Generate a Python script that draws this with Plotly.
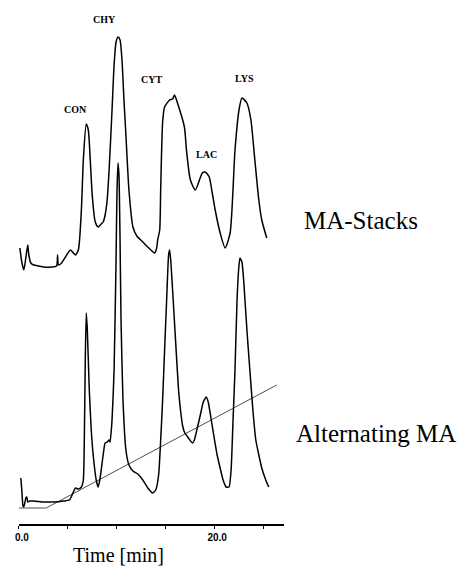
import plotly.graph_objects as go

# Retention times (min) and detector response (arbitrary units) for the two columns
stacks_time = [0.10, 0.30, 0.51, 0.71, 0.91, 1.02, 1.22, 1.52, 2.03, 2.54, 3.35, 3.86, 3.96, 4.06,
               4.37, 4.77, 5.28, 5.58, 5.79, 6.09, 6.40, 6.60, 6.90, 7.11, 7.31, 7.51, 7.82, 8.12,
               8.43, 8.63, 8.83, 9.04, 9.24, 9.54, 9.75, 9.95, 10.15, 10.36, 10.56, 10.76, 10.96,
               11.27, 11.68, 12.08, 12.69, 13.30, 13.91, 14.11, 14.21, 14.42, 14.52, 14.72, 14.92,
               15.43, 15.74, 15.94, 16.24, 16.95, 17.16, 17.56, 18.07, 18.78, 19.08, 19.49, 19.80,
               20.10, 20.61, 21.12, 21.63, 22.13, 22.54, 22.84, 23.35, 23.76, 24.16, 24.57, 24.87,
               25.38]
stacks_signal = [19, 5, -3, 9, 22, 12, 4, 2, 1, 0, 0, 1, 12, 2,
                 4, 10, 17, 14, 12, 17, 57, 107, 143, 137, 107, 72, 45, 40,
                 43, 45, 52, 67, 97, 157, 202, 225, 230, 227, 207, 167, 132,
                 77, 40, 31, 25, 19, 14, 19, 27, 37, 77, 145, 160,
                 167, 168, 172, 164, 140, 117, 87, 77, 94, 95, 90, 74,
                 57, 34, 19, 34, 117, 157, 169, 164, 147, 107, 67, 47,
                 29]

alternating_time = [0.20, 0.30, 0.41, 0.51, 0.61, 0.71, 0.81, 0.91, 1.12, 1.52, 2.54, 3.55, 4.57,
                    5.18, 5.58, 5.79, 6.09, 6.40, 6.60, 6.70, 6.80, 6.90, 7.01, 7.21, 7.41, 7.61,
                    7.92, 8.12, 8.32, 8.63, 8.83, 9.04, 9.24, 9.34, 9.54, 9.75, 9.95, 10.05, 10.15,
                    10.25, 10.36, 10.46, 10.66, 10.96, 11.27, 11.68, 12.18, 12.69, 13.20, 13.71,
                    14.01, 14.31, 14.52, 14.72, 14.92, 15.13, 15.33, 15.43, 15.53, 15.74, 16.04,
                    16.35, 16.55, 16.75, 16.95, 17.36, 17.77, 17.97, 18.27, 18.58, 18.88, 19.19,
                    19.39, 19.70, 20.00, 20.30, 20.61, 20.91, 21.22, 21.52, 21.73, 21.93, 22.13,
                    22.34, 22.54, 22.64, 22.84, 23.05, 23.35, 23.65, 23.96, 24.26, 24.57, 24.87,
                    25.28, 25.58]
alternating_signal = [24, 12, -3, -5, -1, 4, 5, 0, 1, 1, 0, 0, 1,
                      2, 10, 14, 13, 15, 22, 62, 142, 189, 172, 112, 72, 47,
                      22, 15, 24, 47, 59, 60, 62, 60, 82, 132, 242, 312, 339,
                      327, 262, 182, 102, 52, 37, 31, 28, 22, 14, 9,
                      12, 27, 62, 102, 152, 202, 247, 252, 244, 212, 162,
                      112, 92, 77, 70, 64, 59, 62, 74, 87, 100, 105,
                      100, 82, 64, 47, 34, 22, 15, 15, 32, 82, 132,
                      202, 237, 244, 240, 217, 172, 132, 92, 62, 47, 34,
                      22, 15]

# Linear gradient profile drawn under the alternating-MA trace
gradient_time = [0.0, 2.8, 26.4]
gradient_level = [-6, -6, 117]

# Protein peaks: label, time of the label, height of the label
peak_names = ["CON", "CHY", "CYT", "LAC", "LYS"]
peak_label_time = [5.8, 8.8, 13.6, 19.2, 23.1]
peak_label_level = [158, 248, 188, 113, 189]

tick_values = [0, 5, 10, 15, 20, 25]
tick_text = ["0.0", "", "", "", "20.0", ""]

# Vertical offsets that stack the two chromatograms
STACKS_OFFSET = 257
ALTERNATING_OFFSET = 22

SERIF = "Liberation Serif"

fig = go.Figure()

fig.add_trace(go.Scatter(
    x=gradient_time, y=[v + ALTERNATING_OFFSET for v in gradient_level],
    mode="lines", line=dict(color="#3a3a3a", width=0.9), hoverinfo="skip"))

fig.add_trace(go.Scatter(
    x=stacks_time, y=[v + STACKS_OFFSET for v in stacks_signal],
    mode="lines", line=dict(color="black", width=1.5, shape="spline", smoothing=0.6),
    name="MA-Stacks"))

fig.add_trace(go.Scatter(
    x=alternating_time, y=[v + ALTERNATING_OFFSET for v in alternating_signal],
    mode="lines", line=dict(color="black", width=1.5, shape="spline", smoothing=0.5),
    name="Alternating MA"))

for name, t, lvl in zip(peak_names, peak_label_time, peak_label_level):
    fig.add_annotation(x=t, y=lvl + STACKS_OFFSET, text=f"<b>{name}</b>", showarrow=False,
                       font=dict(family=SERIF, size=10, color="black"))

fig.add_annotation(x=360 / 459, y=47 + STACKS_OFFSET, xref="paper", yref="y",
                   xanchor="center", yanchor="middle",
                   text="MA-Stacks", showarrow=False,
                   font=dict(family=SERIF, size=25, color="black"))
fig.add_annotation(x=375 / 459, y=69 + ALTERNATING_OFFSET, xref="paper", yref="y",
                   xanchor="center", yanchor="middle",
                   text="Alternating MA", showarrow=False,
                   font=dict(family=SERIF, size=25, color="black"))
fig.add_annotation(x=116 / 459, y=-31 / 524, xref="paper", yref="paper",
                   xanchor="center", yanchor="middle",
                   text="Time [min]", showarrow=False,
                   font=dict(family=SERIF, size=20, color="black"))

fig.update_layout(
    width=459, height=568,
    margin=dict(l=0, r=0, t=0, b=44),
    paper_bgcolor="white", plot_bgcolor="white",
    showlegend=False,
    font=dict(family=SERIF, color="black"),
    xaxis=dict(domain=[15 / 459, 282 / 459], range=[0, 27.1],
               showgrid=False, zeroline=False,
               showline=True, linecolor="black", linewidth=1.5,
               ticks="outside", ticklen=3, tickwidth=1.2, tickcolor="black",
               tickvals=tick_values, ticktext=tick_text, ticklabelshift=3,
               tickfont=dict(family="Liberation Sans", size=10,
                             color="black", weight="bold")),
    yaxis=dict(range=[0, 524], visible=False),
)

fig.write_html("out.html")
